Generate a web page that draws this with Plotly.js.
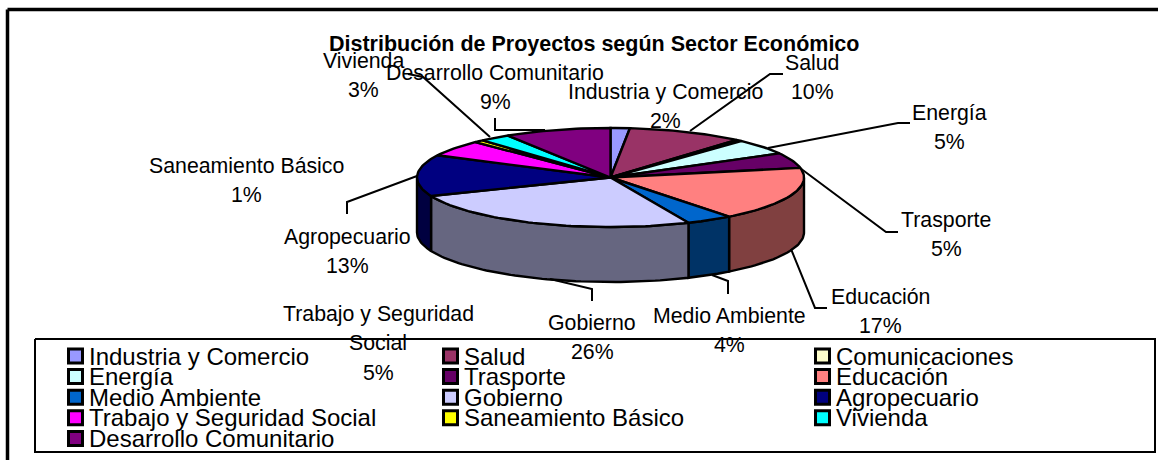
<!DOCTYPE html>
<html><head><meta charset="utf-8">
<script src="https://cdn.plot.ly/plotly-3.0.1.min.js"></script>
<style>html,body{margin:0;padding:0;background:#fff}#c{width:1158px;height:460px}</style>
</head><body><div id="c"></div>
<script>
// ---- data ----
const categories = ["Industria y Comercio","Salud","Comunicaciones","Energía","Trasporte","Educación","Medio Ambiente","Gobierno","Agropecuario","Trabajo y Seguridad Social","Saneamiento Básico","Vivienda","Desarrollo Comunitario"];
const shares = [1.6,9.7,0.5,5.1,5,17.6,3.9,25.5,13.5,5.3,0.8,2.6,8.9];
const percentLabels = ["2%","10%","","5%","5%","17%","4%","26%","13%","5%","1%","3%","9%"];
const colors = ["#9999FF","#993366","#FFFFCC","#CCFFFF","#660066","#FF8080","#0066CC","#CCCCFF","#000080","#FF00FF","#FFFF00","#00FFFF","#800080"];
const sideColors = ["#4D4D80","#4D1A33","#808066","#668080","#330033","#804040","#003366","#666680","#000040","#800080","#808000","#008080","#400040"];
const chartTitle = "Distribución de Proyectos según Sector Económico";

// ---- layout constants (pixels) ----
const W=1158,H=460,cx=610.5,cy=177.5,rx=193.5,ry=49.5,depth=55;
const labelPlace = [
 {x:665,y:92,t:["Industria y Comercio"]},{x:812,y:63,t:["Salud"]},null,{x:949,y:112.5,t:["Energía"]},{x:946,y:220,t:["Trasporte"]},
 {x:880,y:297,t:["Educación"]},{x:729,y:316,t:["Medio Ambiente"]},{x:592,y:323,t:["Gobierno"]},{x:347,y:237,t:["Agropecuario"]},
 {x:378,y:314,t:["Trabajo y Seguridad","Social"]},{x:246,y:166,t:["Saneamiento Básico"]},{x:363,y:61,t:["Vivienda"]},{x:495,y:73,t:["Desarrollo Comunitario"]}];
const leaders = [
 [[690,131],[770,74],[783,74]],[[768,148],[898,123],[910,123]],[[800,168],[886,232],[898,232]],
 [[791,249],[815,308],[827,308]],[[712,275],[728,281],[728,294]],[[550,279],[592,289],[592,301]],
 [[417,176],[347,202],[347,214]],[[490,137],[423,77],[408,74]],[[495,118],[495,130],[545,130]]];

const total = shares.reduce((a,b)=>a+b,0);
const traces=[];
const pt=(d,dy=0)=>{const r=d*Math.PI/180;return [cx+rx*Math.sin(r),cy-ry*Math.cos(r)+dy];};
const arc=(a,b,dy=0)=>{const n=Math.max(2,Math.ceil(Math.abs(b-a)/1.5)),o=[];for(let i=0;i<=n;i++)o.push(pt(a+(b-a)*i/n,dy));return o;};
const poly=(P,fill,w=2.4)=>({type:'scatter',mode:'lines',x:P.map(p=>p[0]),y:P.map(p=>p[1]),fill:'toself',fillcolor:fill,line:{color:'#000',width:w},hoverinfo:'skip',showlegend:false});
const line=(P,w=2)=>({type:'scatter',mode:'lines',x:P.map(p=>p[0]),y:P.map(p=>p[1]),line:{color:'#000',width:w},hoverinfo:'skip',showlegend:false});

// outer frame and legend box
traces.push(line([[7.5,9.5],[W+5,9.5]],3.5));
traces.push(line([[7.5,9.5],[7.5,H+5]],3.5));
traces.push(poly([[35,339],[1155,339],[1155,452],[35,452],[35,339]],'#fff',2));

// pie sides then tops
let acc=0;const spans=shares.map(s=>{const a=acc;acc+=s/total*360;return [a,acc];});
spans.forEach(([a,b],i)=>{
  const s=Math.max(a,90),e=Math.min(b,270);
  if(e>s){const top=arc(s,e),bot=arc(e,s,depth);traces.push(poly([...top,...bot,top[0]],sideColors[i]));}
});
spans.forEach(([a,b],i)=>{
  traces.push(poly([[cx,cy],...arc(a,b),[cx,cy]],colors[i]));
});

// leaders
leaders.forEach(l=>traces.push(line(l,2)));

// legend built from the categories
const cols=[67,442,814],rows=[356,376.6,397.2,417.8,438.4];
const lx=[],ly=[];categories.forEach((c,i)=>{lx.push(cols[i%3]+8.5);ly.push(rows[Math.floor(i/3)]);});
traces.push({type:'scatter',mode:'markers',x:lx,y:ly,marker:{symbol:'square',size:14,color:colors,line:{color:'#000',width:3}},hoverinfo:'skip',showlegend:false});

const ann=[];
categories.forEach((c,i)=>{
  ann.push({x:lx[i]+11.5,y:ly[i],xref:'x',yref:'y',text:c,showarrow:false,xanchor:'left',yanchor:'middle',font:{size:24,color:'#000'}});
  const p=labelPlace[i];
  if(p){
    p.t.forEach((s,k)=>ann.push({x:p.x,y:p.y+k*29.3,xref:'x',yref:'y',text:s,showarrow:false,xanchor:'center',yanchor:'middle',font:{size:21.3,color:'#000'}}));
    ann.push({x:p.x,y:p.y+p.t.length*29.3,xref:'x',yref:'y',text:percentLabels[i],showarrow:false,xanchor:'center',yanchor:'middle',font:{size:21.3,color:'#000'}});
  }
});
ann.push({x:594,y:44,xref:'x',yref:'y',text:'<b>'+chartTitle+'</b>',showarrow:false,xanchor:'center',yanchor:'middle',font:{size:21.5,color:'#000'}});

Plotly.newPlot('c',traces,{
  width:W,height:H,margin:{l:0,r:0,t:0,b:0},paper_bgcolor:'#fff',plot_bgcolor:'#fff',showlegend:false,
  font:{family:'"Liberation Sans",Arial,sans-serif'},
  xaxis:{range:[0,W],visible:false,fixedrange:true},
  yaxis:{range:[H,0],visible:false,fixedrange:true},
  annotations:ann
},{displayModeBar:false,staticPlot:true});
</script></body></html>
